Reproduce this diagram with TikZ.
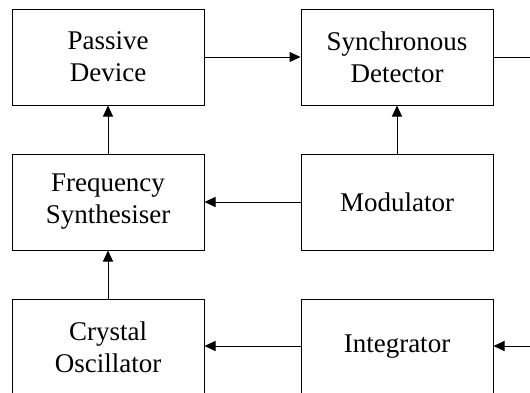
\documentclass[tikz,border=0pt]{standalone}
\usepackage{fontspec}
\setmainfont{Liberation Serif}
\usetikzlibrary{positioning,arrows.meta}

\tikzset{
  blockbox/.style={draw=black, line width=1pt, minimum width=192pt, minimum height=96pt,
    inner sep=0pt, align=center, font=\fontsize{27}{32}\selectfont},
  sigline/.style={line width=1pt, -{Triangle[length=11pt,width=10pt]}}
}

\begin{document}
\begin{tikzpicture}[x=1pt, y=1pt, node distance=48pt and 96pt]
\useasboundingbox (0,0) rectangle (530,-392);
\clip (0,0) rectangle (530,-392);
\node[blockbox] (passive) at (108,-57) {Passive\\Device};
\node[blockbox, right=of passive] (detector) {Synchronous\\Detector};
\node[blockbox, below=of passive] (synth) {Frequency\\Synthesiser};
\node[blockbox, below=of detector] (modulator) {Modulator};
\node[blockbox, below=of synth] (crystal) {Crystal\\Oscillator};
\node[blockbox, below=of modulator] (integrator) {Integrator};
\coordinate (outR) at (530,-57);
\coordinate (inR) at (530,-346);
\draw[sigline] (passive) -- (detector);
\draw[sigline] (synth) -- (passive);
\draw[sigline] (crystal) -- (synth);
\draw[sigline] (modulator) -- (detector);
\draw[sigline] (modulator) -- (synth);
\draw[sigline] (integrator.west |- inR) -- (crystal.east |- inR);
\draw[sigline] (inR) -- (integrator.east |- inR);
\draw[line width=1pt] (detector.east |- outR) -- (outR);
\end{tikzpicture}
\end{document}
